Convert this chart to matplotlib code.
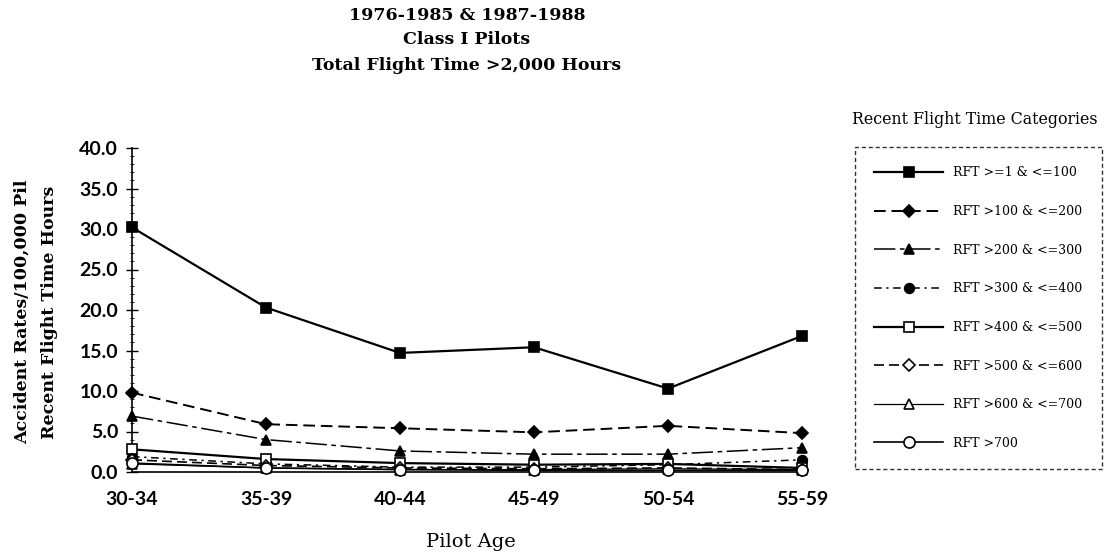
import matplotlib

matplotlib.use("Agg")
import matplotlib.pyplot as plt
from matplotlib.ticker import MultipleLocator

# accident rates per 100,000 pilot recent flight time hours, by pilot age group
age_groups = ["30-34", "35-39", "40-44", "45-49", "50-54", "55-59"]
y_ticks = [0.0, 5.0, 10.0, 15.0, 20.0, 25.0, 30.0, 35.0, 40.0]

rft_1_100 = [30.2, 20.3, 14.7, 15.4, 10.3, 16.8]
rft_100_200 = [9.8, 5.9, 5.4, 4.9, 5.7, 4.8]
rft_200_300 = [6.9, 4.0, 2.6, 2.2, 2.2, 3.0]
rft_300_400 = [1.9, 1.0, 0.6, 0.6, 0.9, 1.5]
rft_400_500 = [2.8, 1.6, 1.1, 0.9, 1.0, 0.5]
rft_500_600 = [1.5, 0.8, 0.5, 0.4, 0.5, 0.3]
rft_600_700 = [1.0, 0.5, 0.3, 0.3, 0.4, 0.3]
rft_700_up = [1.1, 0.5, 0.3, 0.2, 0.2, 0.2]

labels = [
    "RFT >=1 & <=100",
    "RFT >100 & <=200",
    "RFT >200 & <=300",
    "RFT >300 & <=400",
    "RFT >400 & <=500",
    "RFT >500 & <=600",
    "RFT >600 & <=700",
    "RFT >700",
]

SERIF = "DejaVu Serif"
SANS = "Lato"

series = [rft_1_100, rft_100_200, rft_200_300, rft_300_400,
          rft_400_500, rft_500_600, rft_600_700, rft_700_up]
styles = [
    dict(ls="-", lw=1.6, marker="s", mfc="black", ms=7),
    dict(ls=(0, (6, 3)), lw=1.4, marker="D", mfc="black", ms=6),
    dict(ls=(0, (14, 3, 3, 3)), lw=1.1, marker="^", mfc="black", ms=7),
    dict(ls=(0, (5, 3, 1.5, 3)), lw=1.1, marker="o", mfc="black", ms=7),
    dict(ls="-", lw=1.6, marker="s", mfc="white", ms=7),
    dict(ls=(0, (6, 3)), lw=1.2, marker="D", mfc="white", ms=6),
    dict(ls="-", lw=0.9, marker="^", mfc="white", ms=7),
    dict(ls="-", lw=1.2, marker="o", mfc="white", ms=8),
]

fig = plt.figure(figsize=(11.04, 5.54), dpi=100)
ax = fig.add_axes([132 / 1104, 1 - 472 / 554, (802 - 132) / 1104, (472 - 148) / 554])

x = list(range(len(age_groups)))
for vals, lab, st in zip(series, labels, styles):
    ax.plot(x, vals, color="black", mec="black", mew=1.2, label=lab,
            clip_on=False, zorder=3, **st)

ax.set_xlim(0, len(age_groups) - 1)
ax.set_ylim(0, 40)
ax.set_yticks(y_ticks)
ax.set_yticklabels([f"{v:.1f}" for v in y_ticks],
                   fontfamily=SANS, fontweight="bold", fontsize=14)
ax.yaxis.set_minor_locator(MultipleLocator(1))
ax.set_xticks(x)
ax.set_xticklabels(age_groups, fontfamily=SANS, fontweight="bold", fontsize=14)
ax.tick_params(axis="y", which="major", direction="inout", length=8, width=1, pad=6)
ax.tick_params(axis="y", which="minor", direction="inout", length=3, width=0.6)
ax.tick_params(axis="x", length=0, pad=14)
for side in ("top", "right"):
    ax.spines[side].set_visible(False)
ax.spines["left"].set_linewidth(1.2)
ax.spines["bottom"].set_linewidth(1.2)

fig.text(0.423, 1 - 15 / 554, "1976-1985 & 1987-1988", ha="center", va="center",
         fontfamily=SERIF, fontweight="bold", fontsize=12.5)
fig.text(0.423, 1 - 40 / 554, "Class I Pilots", ha="center", va="center",
         fontfamily=SERIF, fontweight="bold", fontsize=12.5)
fig.text(0.423, 1 - 65 / 554, "Total Flight Time >2,000 Hours", ha="center", va="center",
         fontfamily=SERIF, fontweight="bold", fontsize=12.5)

fig.text(22 / 1104, 1 - 312 / 554, "Accident Rates/100,000 Pil", rotation=90,
         ha="center", va="center", fontfamily=SERIF, fontweight="bold", fontsize=12.5)
fig.text(50 / 1104, 1 - 312 / 554, "Recent Flight Time Hours", rotation=90,
         ha="center", va="center", fontfamily=SERIF, fontweight="bold", fontsize=12.5)
fig.text(471 / 1104, 1 - 542 / 554, "Pilot Age", ha="center", va="center",
         fontfamily=SERIF, fontsize=14)

fig.text(852 / 1104, 1 - 120 / 554, "Recent Flight Time Categories", ha="left",
         va="center", fontfamily=SERIF, fontsize=11.4)
leg = fig.legend(loc="upper left", bbox_to_anchor=(855 / 1104, 1 - 147 / 554),
                 bbox_transform=fig.transFigure, prop={"family": SERIF, "size": 9},
                 handlelength=5.5, handletextpad=0.8, labelspacing=2.05,
                 borderpad=1.55, borderaxespad=0, fancybox=False, frameon=True)
leg.get_frame().set_edgecolor("black")
leg.get_frame().set_linewidth(1.0)
leg.get_frame().set_linestyle((0, (3, 2)))

fig.savefig("out.png", dpi=100, facecolor="white")
